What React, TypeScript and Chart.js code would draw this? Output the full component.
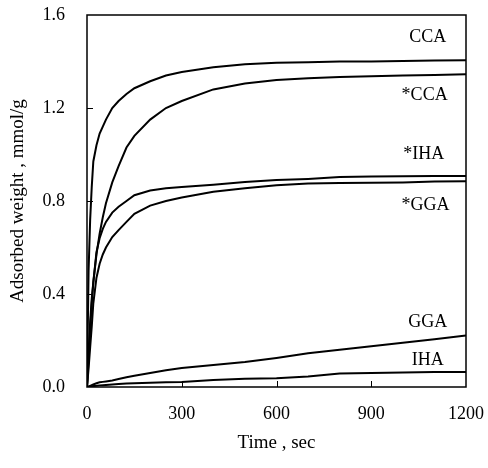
import React, { useEffect, useRef } from "react";
import { Chart, registerables } from "chart.js";

Chart.register(...registerables);

// Time (sec)
const TIME = [0, 5, 10, 15, 20, 30, 40, 50, 60, 80, 100, 125, 150, 200, 250, 300, 400, 500, 600, 700, 800, 900, 1000, 1100, 1200];

// Adsorbed weight (mmol/g)
const CCA = [0, 0.5, 0.72, 0.86, 0.97, 1.04, 1.09, 1.12, 1.15, 1.2, 1.23, 1.26, 1.285, 1.315, 1.34, 1.355, 1.375, 1.388, 1.395, 1.397, 1.4, 1.4, 1.402, 1.404, 1.405];
const STAR_CCA = [0, 0.15, 0.28, 0.38, 0.45, 0.57, 0.66, 0.73, 0.79, 0.88, 0.95, 1.03, 1.08, 1.15, 1.2, 1.23, 1.28, 1.305, 1.32, 1.328, 1.333, 1.337, 1.34, 1.342, 1.345];
const STAR_IHA = [0, 0.12, 0.25, 0.36, 0.45, 0.58, 0.64, 0.68, 0.71, 0.75, 0.775, 0.8, 0.825, 0.845, 0.855, 0.86, 0.87, 0.882, 0.89, 0.895, 0.903, 0.905, 0.906, 0.907, 0.907];
const STAR_GGA = [0, 0.08, 0.17, 0.26, 0.36, 0.47, 0.53, 0.57, 0.6, 0.645, 0.675, 0.71, 0.745, 0.78, 0.8, 0.815, 0.84, 0.855, 0.868, 0.875, 0.877, 0.878, 0.88, 0.884, 0.885];
const GGA = [0, 0.002, 0.005, 0.008, 0.011, 0.016, 0.02, 0.022, 0.024, 0.028, 0.034, 0.042, 0.048, 0.06, 0.072, 0.082, 0.095, 0.108, 0.125, 0.145, 0.16, 0.175, 0.19, 0.205, 0.222];
const IHA = [0, 0.001, 0.002, 0.003, 0.004, 0.005, 0.007, 0.008, 0.009, 0.011, 0.013, 0.015, 0.016, 0.018, 0.02, 0.022, 0.03, 0.035, 0.038, 0.045, 0.058, 0.06, 0.062, 0.064, 0.065];

const SERIES_NAMES = ["CCA", "*CCA", "*IHA", "*GGA", "GGA", "IHA"];
const SERIES_VALUES = [CCA, STAR_CCA, STAR_IHA, STAR_GGA, GGA, IHA];

// Curve labels placed in data coordinates
const LABEL_TEXT = ["CCA", "*CCA", "*IHA", "*GGA", "GGA", "IHA"];
const LABEL_T = [1079, 1069, 1066, 1072, 1079, 1079];
const LABEL_V = [1.505, 1.256, 1.0, 0.78, 0.28, 0.116];

const X_TICKS = [0, 300, 600, 900, 1200];
const Y_TICKS = [0, 0.4, 0.8, 1.2, 1.6];

const FONT = "'Liberation Serif', 'Times New Roman', serif";

export default function App() {
  const ref = useRef<HTMLCanvasElement>(null);

  useEffect(() => {
    document.body.style.margin = "0";
    const canvas = ref.current;
    if (!canvas) return;

    const decor = {
      id: "decor",
      afterDatasetsDraw(chart: any) {
        const { ctx, chartArea } = chart;
        const xs = chart.scales.x;
        const ys = chart.scales.y;
        ctx.save();
        ctx.strokeStyle = "#000";
        ctx.lineWidth = 1.5;
        ctx.strokeRect(chartArea.left, chartArea.top, chartArea.right - chartArea.left, chartArea.bottom - chartArea.top);
        ctx.lineWidth = 1;
        ctx.beginPath();
        Y_TICKS.slice(1, -1).forEach((v) => {
          const y = Math.round(ys.getPixelForValue(v)) + 0.5;
          ctx.moveTo(chartArea.left, y);
          ctx.lineTo(chartArea.left + 6, y);
        });
        X_TICKS.slice(1, -1).forEach((v) => {
          const x = Math.round(xs.getPixelForValue(v)) + 0.5;
          ctx.moveTo(x, chartArea.bottom);
          ctx.lineTo(x, chartArea.bottom - 6);
        });
        ctx.stroke();
        ctx.fillStyle = "#000";
        ctx.font = `18px ${FONT}`;
        ctx.textAlign = "center";
        ctx.textBaseline = "middle";
        LABEL_TEXT.forEach((t, i) => {
          ctx.fillText(t, xs.getPixelForValue(LABEL_T[i]), ys.getPixelForValue(LABEL_V[i]));
        });
        ctx.restore();
      },
    };

    const chart = new Chart(canvas, {
      type: "scatter",
      data: {
        datasets: SERIES_NAMES.map((name, i) => ({
          label: name,
          data: TIME.map((t, j) => ({ x: t, y: SERIES_VALUES[i][j] })),
          showLine: true,
          borderColor: "#000",
          borderWidth: 2,
          pointRadius: 0,
          fill: false,
          tension: 0,
        })),
      },
      options: {
        responsive: false,
        animation: false,
        layout: { padding: { top: 15, right: 22, left: 0, bottom: 0 } },
        plugins: { legend: { display: false }, tooltip: { enabled: false } },
        scales: {
          x: {
            type: "linear",
            min: 0,
            max: 1200,
            afterBuildTicks: (s: any) => {
              s.ticks = X_TICKS.map((v) => ({ value: v }));
            },
            afterFit: (s: any) => {
              s.height = 81;
              s.paddingLeft = 0;
              s.paddingRight = 0;
            },
            grid: { display: false, drawTicks: false },
            border: { display: false },
            ticks: {
              color: "#000",
              font: { family: FONT, size: 18 },
              padding: 16,
              maxRotation: 0,
              callback: (v: any) => String(v),
            },
            title: {
              display: true,
              text: "Time , sec",
              color: "#000",
              font: { family: FONT, size: 19 },
              padding: { top: 0, bottom: 14 },
            },
          },
          y: {
            type: "linear",
            min: 0,
            max: 1.6,
            afterBuildTicks: (s: any) => {
              s.ticks = Y_TICKS.map((v) => ({ value: v }));
            },
            afterFit: (s: any) => {
              s.width = 87;
              s.paddingTop = 0;
              s.paddingBottom = 0;
            },
            grid: { display: false, drawTicks: false },
            border: { display: false },
            ticks: {
              color: "#000",
              font: { family: FONT, size: 18 },
              padding: 22,
              callback: (v: any) => Number(v).toFixed(1),
            },
            title: {
              display: true,
              text: "Adsorbed weight , mmol/g",
              color: "#000",
              font: { family: FONT, size: 19 },
              padding: { top: 7, bottom: 0 },
            },
          },
        },
      },
      plugins: [decor],
    });

    return () => chart.destroy();
  }, []);

  return (
    <div style={{ width: 488, height: 468 }}>
      <canvas ref={ref} width={488} height={468} style={{ display: "block" }} />
    </div>
  );
}
